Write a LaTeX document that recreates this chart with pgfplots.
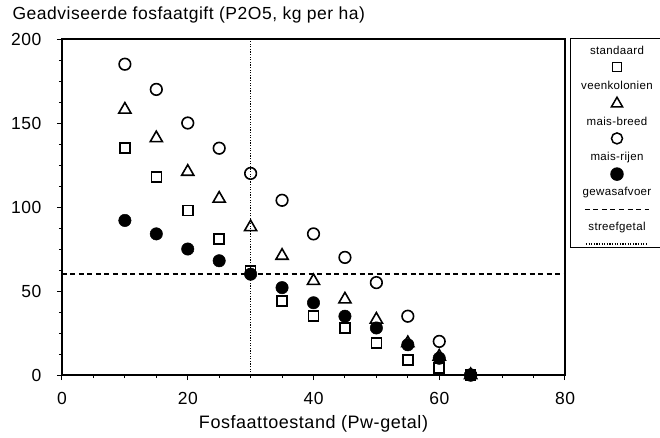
\documentclass[border=0pt]{standalone}
\usepackage{pgfplots}
\pgfplotsset{compat=1.18}
\usepackage{fontspec}
\setmainfont{Liberation Sans}[LetterSpace=3]
\newcommand{\lgmark}[1]{\tikz[baseline=-5pt]\draw[black, line width=1.5pt] plot[only marks, #1] coordinates {(0,0)};}
\newcommand{\lgent}[2]{\begin{tabular}{@{}c@{}}#1\\[4pt]#2\end{tabular}}
\begin{document}
\begin{tikzpicture}
\begin{axis}[
  scale only axis, width=503pt, height=336pt,
  xmin=0, xmax=80, ymin=0, ymax=200,
  xtick={0,20,...,80}, ytick={0,50,...,200},
  minor x tick num=3, minor y tick num=3,
  tick align=outside, tick pos=left,
  major tick length=5pt, minor tick length=3pt,
  axis line style={line width=1.6pt},
  every tick/.style={black, line width=1pt},
  /pgf/number format/assume math mode=true,
  tick label style={font=\fontsize{17.5}{19}\selectfont},
  yticklabel style={xshift=-12pt},
  xticklabel style={yshift=-9pt},
  xlabel={Fosfaattoestand (Pw-getal)},
  xlabel style={font=\fontsize{18}{20}\selectfont, yshift=-4pt},
  title={Geadviseerde fosfaatgift (P2O5, kg per ha)},
  title style={at={(rel axis cs:0,1)}, anchor=base west, xshift=-53pt, yshift=14pt, font=\fontsize{17.5}{19}\selectfont},
  clip=false,
  legend plot pos=none,
  legend style={at={(rel axis cs:1,1)}, anchor=north west, xshift=5pt, yshift=1pt,
    draw=black, line width=1pt, font=\fontsize{11.5}{13}\selectfont,
    cells={anchor=center}, row sep=11pt, minimum width=89pt, inner xsep=2pt, inner ysep=5pt},
]
\addplot[only marks, mark=square, mark size=5pt, line width=1.6pt, black] coordinates {
(10,135)(15,118)(20,98)(25,81)(30,62)(35,44)(40,35)(45,28)(50,19)(55,9)(60,4)(65,0)};
\addlegendentry{\lgent{standaard}{\lgmark{mark=square, mark size=4.5pt}}}
\addplot[only marks, mark=triangle, mark size=7pt, line width=1.6pt, black] coordinates {
(10,158)(15,141)(20,121)(25,105)(30,88)(35,71)(40,56)(45,45)(50,33)(55,19)(60,11)(65,0)};
\addlegendentry{\lgent{veenkolonien}{\lgmark{mark=triangle, mark size=6.5pt}}}
\addplot[only marks, mark=o, mark size=5.8pt, line width=1.6pt, black] coordinates {
(10,185)(15,170)(20,150)(25,135)(30,120)(35,104)(40,84)(45,70)(50,55)(55,35)(60,20)(65,0)};
\addlegendentry{\lgent{mais-breed}{\lgmark{mark=o, mark size=5.5pt}}}
\addplot[only marks, mark=*, mark size=6.2pt, line width=0.5pt, black, fill=black] coordinates {
(10,92)(15,84)(20,75)(25,68)(30,60)(35,52)(40,43)(45,35)(50,28)(55,18)(60,10)(65,0)};
\addlegendentry{\lgent{mais-rijen}{\lgmark{mark=*, mark size=6pt, fill=black}}}
\addplot[black, line width=1.6pt, dash pattern=on 5pt off 3.5pt] coordinates {(0,60)(80,60)};
\addlegendentry{\lgent{gewasafvoer}{\tikz[baseline=-3pt]\draw[line width=1.5pt, dash pattern=on 5pt off 3.5pt] (0,0)--(64pt,0);}}
\addplot[black, line width=1.6pt, dash pattern=on 1.2pt off 1.4pt] coordinates {(30,0)(30,200)};
\addlegendentry{\lgent{streefgetal}{\tikz[baseline=-3pt]\draw[line width=1.5pt, dash pattern=on 1.2pt off 1.4pt] (0,0)--(62pt,0);}}
\end{axis}
\pgfresetboundingbox
\path (current axis.south west) ++(-62pt,-62pt) rectangle ++(660pt,437pt);
\end{tikzpicture}
\end{document}
